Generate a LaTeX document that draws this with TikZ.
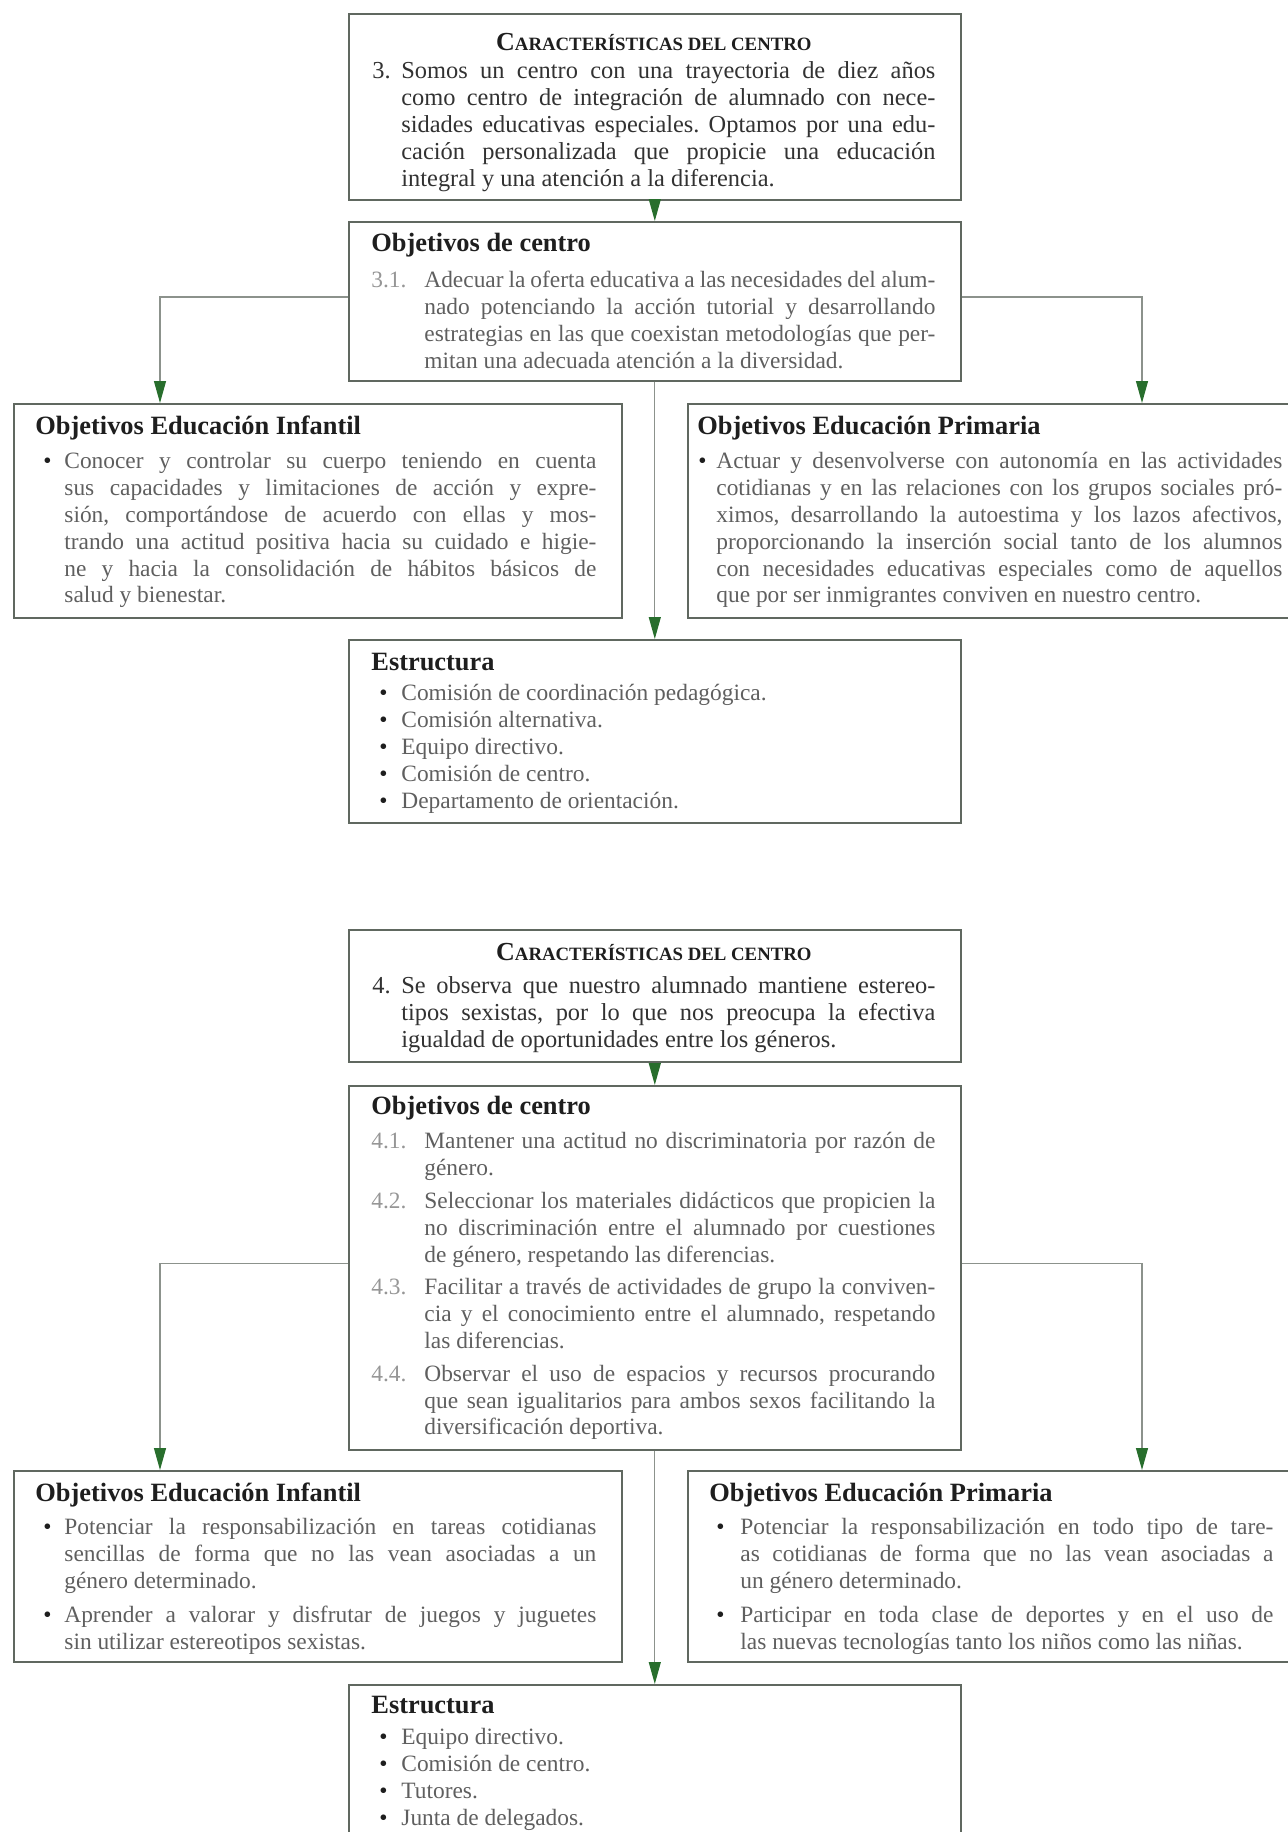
\documentclass[tikz,border=0pt]{standalone}
\usepackage{fontspec}
\setmainfont{Liberation Serif}
\usetikzlibrary{arrows.meta}
\frenchspacing

\definecolor{boxline}{RGB}{96,104,96}
\definecolor{connline}{RGB}{140,146,140}
\definecolor{arrowgreen}{RGB}{40,110,45}
\definecolor{titletext}{RGB}{30,30,30}
\definecolor{maintext}{RGB}{50,50,50}
\definecolor{lighttext}{RGB}{95,95,95}
\definecolor{numtext}{RGB}{150,150,150}

\newcommand{\maintextfont}{\fontsize{12.2}{13.5}\selectfont\tolerance=10000 }
\newcommand{\lighttextfont}{\fontsize{11.7}{13.4}\selectfont\tolerance=10000 }
\newcommand{\centretitle}{\hfill{\color{titletext}\bfseries{\fontsize{13}{13}\selectfont C}{\fontsize{9.4}{13}\selectfont ARACTERÍSTICAS DEL CENTRO}}\hfill\null\par}
\newcommand{\boxtitle}[1]{{\fontsize{13.2}{13.4}\selectfont\bfseries\color{titletext}#1}\par}
\newcommand{\numitem}[3]{\par\hangindent=#1\hangafter=1\noindent\makebox[#1][l]{\color{numtext}#2}#3\par}
\newcommand{\bulitem}[3]{\par\hangindent=#1\hangafter=1\noindent\makebox[#1][l]{\hspace*{#2}\color{titletext}\textbullet}#3\par}

\begin{document}
\begin{tikzpicture}[x=0.5pt, y=-0.5pt,
	box/.style={draw=boxline, line width=0.8pt, inner sep=0pt, anchor=north west, minimum width=306pt},
	txt/.style={anchor=base west, inner sep=0pt, align=justify, text=lighttext, font=\lighttextfont},
	toptxt/.style={txt, text=maintext, font=\maintextfont},
	conn/.style={draw=connline, line width=0.6pt, -{Triangle[width=6pt,length=11pt,color=arrowgreen]}}]
	\useasboundingbox (0,0) rectangle (1288,1832);
	\clip (0,0) rectangle (1288,1832);

	% caracteristica 3
	\node[box, minimum height=93pt] (A) at (348,13) {};
	\node[box, minimum height=79.5pt] (B) at (348,221) {};
	\node[box, minimum width=304pt, minimum height=107pt] (C) at (13,403) {};
	\node[box, minimum width=310pt, minimum height=107pt] (D) at (687,403) {};
	\node[box, minimum height=91.5pt] (E) at (348,639) {};

	\node[toptxt, text width=281.5pt] (At) at (372,50) {\centretitle\vspace{0.5pt}
		\numitem{14.5pt}{\color{maintext}3.}{Somos un centro con una trayectoria de diez años\linebreak como centro de integración de alumnado con nece-\linebreak sidades educativas especiales. Optamos por una edu-\linebreak cación personalizada que propicie una educación\linebreak integral y una atención a la diferencia.}};
	\node[txt, text width=282pt] (Bt) at (371,251) {\boxtitle{Objetivos de centro}\vspace{5pt}
		\numitem{26.5pt}{3.1.}{Adecuar la oferta educativa a las necesidades del alum-\linebreak nado potenciando la acción tutorial y desarrollando\linebreak estrategias en las que coexistan metodologías que per-\linebreak mitan una adecuada atención a la diversidad.}};
	\node[txt, text width=280.5pt] (Ct) at (35,434) {\boxtitle{Objetivos Educación Infantil}\vspace{4pt}
		\bulitem{14.5pt}{4pt}{Conocer y controlar su cuerpo teniendo en cuenta\linebreak sus capacidades y limitaciones de acción y expre-\linebreak sión, comportándose de acuerdo con ellas y mos-\linebreak trando una actitud positiva hacia su cuidado e higie-\linebreak ne y hacia la consolidación de hábitos básicos de\linebreak salud y bienestar.}};
	\node[txt, text width=292.5pt] (Dt) at (697,434) {\boxtitle{Objetivos Educación Primaria}\vspace{4pt}
		\bulitem{9.5pt}{0.5pt}{Actuar y desenvolverse con autonomía en las actividades\linebreak cotidianas y en las relaciones con los grupos sociales pró-\linebreak ximos, desarrollando la autoestima y los lazos afectivos,\linebreak proporcionando la inserción social tanto de los alumnos\linebreak con necesidades educativas especiales como de aquellos\linebreak que por ser inmigrantes conviven en nuestro centro.}};
	\node[txt, text width=282pt] (Et) at (371,670) {\boxtitle{Estructura}\vspace{2pt}
		\bulitem{15pt}{4pt}{Comisión de coordinación pedagógica.}
		\bulitem{15pt}{4pt}{Comisión alternativa.}
		\bulitem{15pt}{4pt}{Equipo directivo.}
		\bulitem{15pt}{4pt}{Comisión de centro.}
		\bulitem{15pt}{4pt}{Departamento de orientación.}};

	\draw[conn] (A) -- (B);
	\draw[conn] ([yshift=2.2pt]B.west) -| ([xshift=73.5pt]C.north west);
	\draw[conn] ([yshift=2.2pt]B.east) -| ([xshift=227.5pt]D.north west);
	\draw[conn] (B) -- (E);

	% caracteristica 4
	\node[box, minimum height=66pt] (F) at (348,929) {};
	\node[box, minimum height=182pt] (G) at (348,1085) {};
	\node[box, minimum width=304pt, minimum height=95.5pt] (H) at (13,1470) {};
	\node[box, minimum width=310pt, minimum height=95.5pt] (I) at (687,1470) {};
	\node[box, minimum height=100pt] (J) at (348,1684) {};

	\node[toptxt, text width=281.5pt] (Ft) at (372,960) {\centretitle\vspace{3pt}
		\numitem{14.5pt}{\color{maintext}4.}{Se observa que nuestro alumnado mantiene estereo-\linebreak tipos sexistas, por lo que nos preocupa la efectiva\linebreak igualdad de oportunidades entre los géneros.}};
	\node[txt, text width=282pt] (Gt) at (371,1114) {\boxtitle{Objetivos de centro}\vspace{4pt}
		\numitem{26.5pt}{4.1.}{Mantener una actitud no discriminatoria por razón de\linebreak género.}\vspace{3pt}
		\numitem{26.5pt}{4.2.}{Seleccionar los materiales didácticos que propicien la\linebreak no discriminación entre el alumnado por cuestiones\linebreak de género, respetando las diferencias.}\vspace{3pt}
		\numitem{26.5pt}{4.3.}{Facilitar a través de actividades de grupo la conviven-\linebreak cia y el conocimiento entre el alumnado, respetando\linebreak las diferencias.}\vspace{3pt}
		\numitem{26.5pt}{4.4.}{Observar el uso de espacios y recursos procurando\linebreak que sean igualitarios para ambos sexos facilitando la\linebreak diversificación deportiva.}};
	\node[txt, text width=280.5pt] (Ht) at (35,1501) {\boxtitle{Objetivos Educación Infantil}\vspace{3.5pt}
		\bulitem{14.5pt}{4pt}{Potenciar la responsabilización en tareas cotidianas\linebreak sencillas de forma que no las vean asociadas a un\linebreak género determinado.}\vspace{3.5pt}
		\bulitem{14.5pt}{4pt}{Aprender a valorar y disfrutar de juegos y juguetes\linebreak sin utilizar estereotipos sexistas.}};
	\node[txt, text width=282pt] (It) at (709,1501) {\boxtitle{Objetivos Educación Primaria}\vspace{3.5pt}
		\bulitem{15.5pt}{3.5pt}{Potenciar la responsabilización en todo tipo de tare-\linebreak as cotidianas de forma que no las vean asociadas a\linebreak un género determinado.}\vspace{3.5pt}
		\bulitem{15.5pt}{3.5pt}{Participar en toda clase de deportes y en el uso de\linebreak las nuevas tecnologías tanto los niños como las niñas.}};
	\node[txt, text width=282pt] (Jt) at (371,1713) {\boxtitle{Estructura}\vspace{2.5pt}
		\bulitem{15pt}{4pt}{Equipo directivo.}
		\bulitem{15pt}{4pt}{Comisión de centro.}
		\bulitem{15pt}{4pt}{Tutores.}
		\bulitem{15pt}{4pt}{Junta de delegados.}};

	\draw[conn] (F) -- (G);
	\draw[conn] ([yshift=2pt]G.west) -| ([xshift=73.5pt]H.north west);
	\draw[conn] ([yshift=2pt]G.east) -| ([xshift=227.5pt]I.north west);
	\draw[conn] (G) -- (J);
\end{tikzpicture}
\end{document}
